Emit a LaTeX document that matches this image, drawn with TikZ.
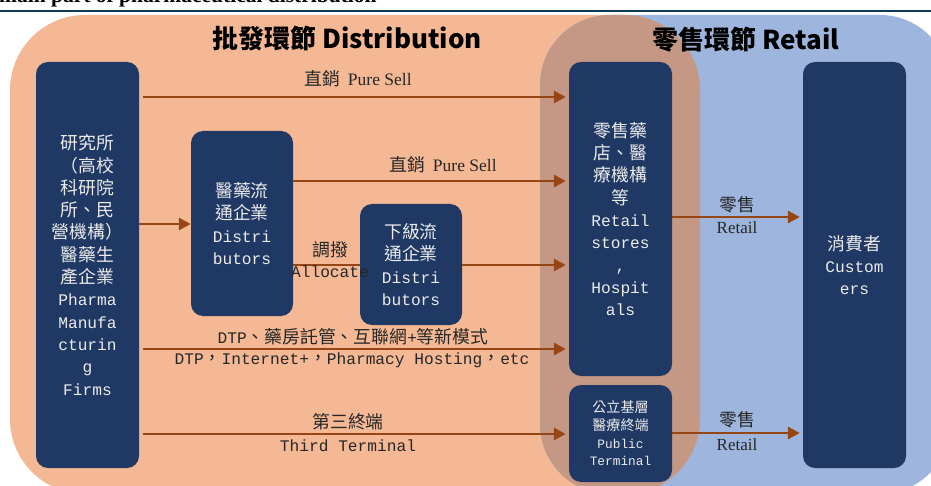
\documentclass[tikz,border=0pt]{standalone}
\usepackage{fontspec}
\setmainfont{Liberation Serif}
\newfontfamily\cjk[Scale=1.1]{Noto Sans CJK TC}
\newfontfamily\cjkhead{Noto Sans CJK TC}
\newfontfamily\mono{Liberation Mono}
\newcommand\Cj[1]{{\cjk #1}}
\newcommand\Mo[1]{{\mono #1}}
\usetikzlibrary{arrows.meta}
\definecolor{peach}{HTML}{F4B994}
\definecolor{skyb}{HTML}{9EB6DD}
\definecolor{overlap}{HTML}{C59886}
\definecolor{navy}{HTML}{1F3864}
\definecolor{arrowc}{HTML}{964514}
\definecolor{rulec}{HTML}{0E3A58}
\definecolor{lbl}{HTML}{262626}
\begin{document}
\begin{tikzpicture}[x=1pt,y=-1pt,
 box/.style={fill=navy, rounded corners=12pt, text=white!92!black, inner sep=0pt, align=center, font=\fontsize{16.2}{22.3}\selectfont},
 flow/.style={draw=arrowc, line width=2.8pt, -{Triangle[length=12pt,width=12pt]}},
 lab/.style={text=lbl, inner sep=0pt, font=\fontsize{16.2}{20}\selectfont},
 head/.style={inner sep=0pt, text=black, font=\cjkhead\bfseries\fontsize{26}{30}\selectfont}
]
\useasboundingbox (0,0) rectangle (931,486);
% regions
\fill[peach, rounded corners=75pt] (10,15) rectangle (700,494);
\fill[skyb, rounded corners=70pt] (540,15) rectangle (950,494);
\begin{scope}
\clip[rounded corners=70pt] (540,15) rectangle (950,494);
\fill[overlap, rounded corners=75pt] (10,15) rectangle (700,494);
\end{scope}
% title and rule
\node[anchor=base west, inner sep=0pt, font=\bfseries\fontsize{21.5}{24}\selectfont] (title) at (-1,3) {main part of pharmaceutical distribution};
\coordinate (ruleL) at (0,11);
\coordinate (ruleR) at (931,11);
\draw[rulec, line width=2pt] (ruleL) -- (ruleR);
% headers
\node[head] (hdist) at (347,38) {批發環節 Distribution};
\node[head] (hret) at (746,40) {零售環節 Retail};
% boxes
\node[box, minimum width=103pt, minimum height=406pt] (mfr) at (87.5,265)
 {\Cj{研究所}\\\Cj{（高校}\\\Cj{科研院}\\\Cj{所、民}\\\Cj{營機構）}\\\Cj{醫藥生}\\\Cj{產企業}\\\Mo{Pharma}\\\Mo{Manufa}\\\Mo{cturin}\\\Mo{g}\\\Mo{Firms}};
\node[box, minimum width=102pt, minimum height=185pt] (dist) at (242,223.5)
 {\Cj{醫藥流}\\\Cj{通企業}\\\Mo{Distri}\\\Mo{butors}};
\node[box, minimum width=102pt, minimum height=121pt] (sub) at (411,264.5)
 {\Cj{下級流}\\\Cj{通企業}\\\Mo{Distri}\\\Mo{butors}};
\node[box, minimum width=103pt, minimum height=314pt] (retail) at (620.5,219)
 {\Cj{零售藥}\\\Cj{店、醫}\\\Cj{療機構}\\\Cj{等}\\\Mo{Retail}\\\Mo{stores}\\\Mo{,}\\\Mo{Hospit}\\\Mo{als}};
\node[box, minimum width=103pt, minimum height=97pt, font=\fontsize{12.8}{17.6}\selectfont] (pub) at (620.5,433.5)
 {\Cj{公立基層}\\\Cj{醫療終端}\\\Mo{Public}\\\Mo{Terminal}};
\node[box, minimum width=103pt, minimum height=406pt] (cust) at (854.5,265)
 {\Cj{消費者}\\\Mo{Custom}\\\Mo{ers}};
% arrow heights
\coordinate (yA) at (0,97);
\coordinate (yB) at (0,181);
\coordinate (yC) at (0,224);
\coordinate (yD) at (0,265);
\coordinate (yE) at (0,349);
\coordinate (yF) at (0,434);
\coordinate (yG) at (0,217);
\coordinate (yH) at (0,433);
% arrows
\draw[flow, shorten <=4pt, shorten >=3pt] (mfr.east |- yA) -- (retail.west |- yA);
\draw[flow, shorten >=3pt] (dist.east |- yB) -- (retail.west |- yB);
\draw[flow] (mfr.east |- yC) -- (dist.west |- yC);
\draw[flow, -] (dist.east |- yD) -- (sub.west |- yD);
\draw[flow, shorten >=3pt] (sub.east |- yD) -- (retail.west |- yD);
\draw[flow, shorten <=4pt, shorten >=3pt] (mfr.east |- yE) -- (retail.west |- yE);
\draw[flow, shorten <=4pt, shorten >=3pt] (mfr.east |- yF) -- (pub.west |- yF);
\draw[flow, shorten >=3pt] (retail.east |- yG) -- (cust.west |- yG);
\draw[flow, shorten >=3pt] (pub.east |- yH) -- (cust.west |- yH);
% labels
\node[lab] (ps1) at (358,79) {\Cj{直銷}\hspace{8pt}{\fontsize{17.5}{20}\selectfont Pure Sell}};
\node[lab] (ps2) at (443,165) {\Cj{直銷}\hspace{8pt}{\fontsize{17.5}{20}\selectfont Pure Sell}};
\node[lab] (al1) at (330,250) {\Cj{調撥}};
\node[lab] (al2) at (330,272) {\Mo{Allocate}};
\node[lab] (dtp1) at (353,337) {\Mo{DTP}\Cj{、藥房託管、互聯網}\Mo{+}\Cj{等新模式}};
\node[lab] (dtp2) at (352,360) {\Mo{DTP}\Cj{，}\Mo{Internet+}\Cj{，}\Mo{Pharmacy Hosting}\Cj{，}\Mo{etc}};
\node[lab] (tt1) at (348,422) {\Cj{第三終端}};
\node[lab] (tt2) at (348,446) {\Mo{Third Terminal}};
\node[lab] (rt1a) at (737,205) {\Cj{零售}};
\node[lab, font=\fontsize{17}{20}\selectfont] (rt1b) at (737,228) {Retail};
\node[lab] (rt2a) at (737,420) {\Cj{零售}};
\node[lab, font=\fontsize{17}{20}\selectfont] (rt2b) at (737,445) {Retail};
\end{tikzpicture}
\end{document}
